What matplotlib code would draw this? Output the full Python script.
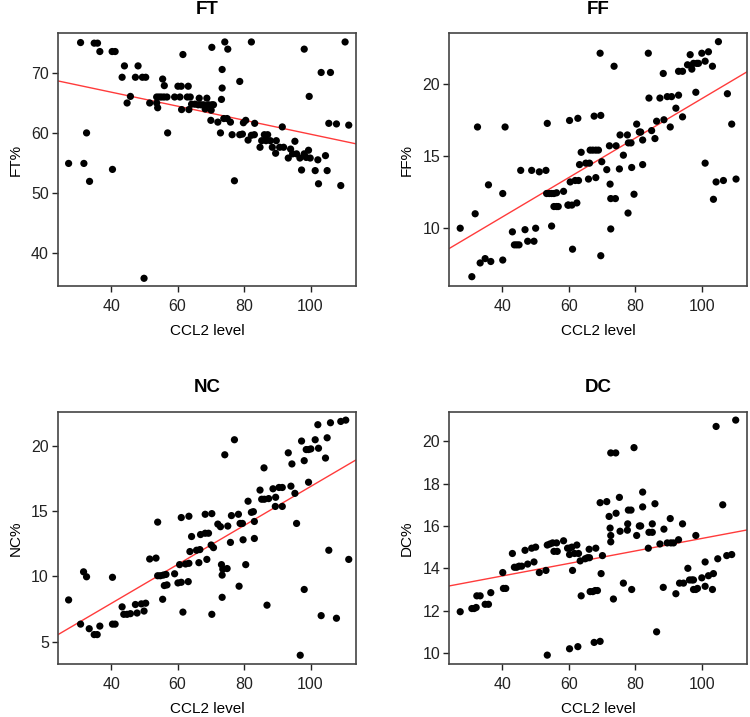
import numpy as np
import matplotlib
matplotlib.use("Agg")
import matplotlib.pyplot as plt

plt.rcParams['font.family'] = ['Liberation Sans', 'DejaVu Sans']

# CCL2 level vs cell percentages
ft_points = [(27.2, 54.9), (30.8, 75.1), (31.8, 54.9), (32.6, 60), (33.5, 51.9), (34.9, 75), (35.9, 75), (36.6, 73.6),
             (40.3, 73.6), (41.2, 73.6), (40.4, 53.9), (43.3, 69.3), (44, 71.2), (44.8, 65), (45.8, 66.1), (47.3, 69.3),
             (48.1, 71.2), (49.4, 69.3), (50.4, 69.3), (49.9, 35.7), (51.6, 65), (53.7, 65), (54, 64.2), (53.7, 66),
             (55.5, 69), (56, 67.9), (54.4, 66), (55.1, 66), (55.9, 66), (56.8, 66), (57, 60), (59.1, 66), (60.1, 67.8),
             (61.1, 67.8), (60.7, 66), (61.2, 63.9), (61.6, 73.1), (63.2, 67.8), (62.9, 66), (63.8, 66), (63.4, 63.9),
             (64.2, 64.8), (65.2, 64.8), (66.5, 65.8), (66.2, 64.7), (67, 64.7), (67.8, 64.7), (68.3, 64), (68.8, 65.8),
             (69.3, 64.7), (70.3, 64.7), (70.8, 64.7), (70.1, 63.8), (70.3, 74.3), (74.2, 75.2), (75.1, 74), (70, 62.1),
             (72.1, 61.8), (72.9, 60), (73.2, 65.6), (73.4, 67.5), (73.4, 70.6), (73.9, 62.4), (74.9, 62.4), (75.9, 61.8),
             (76.4, 59.7), (77.1, 52), (78.7, 68.6), (78.7, 59.7), (79.5, 59.8), (79.8, 61.7), (80.5, 62.1), (81.2, 58.8),
             (82.2, 59.6), (83.1, 59.7), (83.2, 61.6), (82.2, 75.2), (84.8, 57.6), (85.3, 58.7), (86.1, 59.7), (86.6, 58.7),
             (87.1, 59.7), (87.9, 58.7), (88.5, 57.6), (89.5, 56.6), (89.7, 58.7), (90.7, 57.6), (91.5, 61), (91.9, 57.6),
             (93.3, 55.8), (94, 57.3), (94.6, 56.5), (95.3, 58.6), (95.8, 56.5), (96.8, 55.8), (97.3, 53.8), (98.1, 56.5),
             (98.1, 74), (98.7, 55.9), (99.4, 57.1), (99.6, 66.1), (99.9, 55.8), (101.4, 53.7), (102.2, 55.5), (102.4, 51.5),
             (103.2, 70.1), (104.5, 56.2), (105, 53.7), (106, 70.1), (105.5, 61.6), (107.8, 61.5), (109.1, 51.2),
             (110.4, 75.2), (111.5, 61.3)]

ff_points = [(27.3, 10), (30.8, 6.65), (31.8, 11), (32.5, 17), (33.3, 7.6), (34.8, 7.9), (35.8, 13), (36.5, 7.7),
             (40.1, 12.4), (40.1, 7.8), (40.8, 17), (43, 9.75), (43.6, 8.85), (44.3, 8.85), (45, 8.85), (45.5, 14),
             (46.8, 9.9), (47.6, 9.1), (48.8, 14), (49.5, 9.1), (50, 10), (51.1, 13.9), (53.1, 14), (53.5, 17.25),
             (53.3, 12.4), (54.1, 12.4), (54.8, 12.4), (55.5, 12.4), (56.3, 12.45), (54.8, 10.15), (55.5, 11.5),
             (56.3, 11.5), (56.8, 11.5), (58.4, 12.55), (59.7, 11.6), (60.2, 17.45), (60.4, 13.2), (61.1, 8.55),
             (59.9, 11.6), (60.9, 11.6), (62.4, 11.75), (61.9, 13.3), (62.9, 13.3), (62.7, 17.6), (63.2, 14.4),
             (63.7, 15.25), (65.1, 14.5), (66.2, 14.5), (65.9, 13.4), (66.4, 15.4), (67.2, 15.4), (68.1, 15.4),
             (68.9, 15.4), (67.6, 17.75), (68.1, 13.5), (69.4, 22.1), (69.6, 17.8), (69.6, 8.1), (69.9, 14.6),
             (71.4, 14.05), (72.2, 15.7), (72.4, 13.05), (72.6, 12.05), (74, 12.05), (72.6, 9.95), (73.6, 21.2),
             (74.2, 15.7), (75.2, 14.1), (75.4, 16.45), (76.4, 15.05), (77.6, 16.45), (77.9, 15.9), (78.7, 15.9),
             (77.8, 11.05), (78.9, 14.2), (79.6, 12.35), (80.4, 17.2), (81.2, 16.65), (81.6, 16.65), (82.2, 16.1),
             (82.2, 14.4), (83.9, 22.1), (84.1, 19), (84.9, 16.75), (86.4, 17.4), (85.9, 16.2), (87.4, 19), (88.4, 20.7),
             (88.6, 17.5), (89.6, 19.1), (90.9, 19.1), (90.5, 17), (92.2, 18.3), (93, 19.2), (93, 20.85), (94.2, 20.85),
             (94.2, 17.7), (95.7, 21.3), (96.5, 22), (97, 21), (97.5, 21.4), (98.5, 21.4), (99, 21.4), (98.2, 19.4),
             (100, 22.1), (102, 22.2), (101, 21.55), (101, 14.5), (103.2, 21.2), (103.5, 12), (104.3, 13.2), (105, 22.9),
             (106.5, 13.3), (107.7, 19.3), (109, 17.2), (110.3, 13.4)]

nc_points = [(27.2, 8.2), (30.8, 6.35), (31.7, 10.35), (32.6, 9.97), (33.4, 6), (34.9, 5.55), (35.8, 5.55), (36.6, 6.2),
             (40.4, 9.93), (40.4, 6.35), (41.2, 6.35), (43.3, 7.67), (43.8, 7.1), (44.8, 7.1), (45.8, 7.15), (47.3, 7.85),
             (47.8, 7.2), (49.1, 7.9), (50.4, 7.95), (49.9, 7.35), (51.6, 11.33), (53.5, 11.4), (54, 14.15), (54, 10.05),
             (54.8, 10.05), (55.7, 10.1), (56.5, 10.15), (55.5, 8.25), (56, 9.3), (56.8, 9.35), (59.1, 10.2), (60.1, 9.5),
             (61.1, 9.55), (60.6, 10.9), (61.1, 14.5), (61.6, 7.27), (62.4, 10.95), (63.4, 11), (63.2, 9.6), (63.4, 14.6),
             (63.7, 11.9), (64.2, 13.05), (65.7, 12), (66.7, 12.05), (66.4, 11.05), (66.9, 13.2), (68.8, 11.3),
             (68.3, 13.3), (69.3, 13.3), (68.3, 14.75), (70.3, 14.8), (70.1, 12.4), (70.8, 12.2), (70.3, 7.1), (72.1, 14),
             (72.9, 13.8), (73.2, 10.9), (73.6, 10.55), (74.9, 10.6), (73.4, 10.1), (73.4, 8.4), (74.2, 19.3),
             (75.1, 13.85), (75.9, 12.6), (76.2, 14.65), (77.1, 20.45), (78.3, 14.75), (78.8, 14.05), (79.5, 14.05),
             (78.5, 9.25), (79.7, 12.8), (80.5, 10.9), (81.2, 15.75), (82.2, 14.9), (82.8, 14.95), (83.1, 14.2),
             (83.1, 12.9), (84.8, 16.6), (85.3, 15.9), (86.1, 15.9), (87.4, 15.95), (86, 18.3), (86.9, 7.8), (88.7, 16.7),
             (89.5, 16.05), (89.4, 15.35), (90.5, 16.8), (91.5, 16.8), (91.5, 15.35), (93.3, 19.45), (94.1, 16.9),
             (94.4, 18.6), (95.3, 16.35), (95.8, 14.05), (96.9, 3.97), (97.3, 20.35), (98.1, 18.85), (98.1, 9),
             (98.7, 19.7), (99.4, 19.7), (100.1, 19.75), (99.4, 17.2), (101.4, 20.45), (102.2, 21.6), (102.4, 19.8),
             (103.2, 7), (104.5, 19.05), (105, 20.6), (105.5, 12), (106, 21.75), (107.8, 6.8), (109.1, 21.85),
             (110.6, 21.95), (111.5, 11.3)]

dc_points = [(27.3, 11.95), (30.8, 12.1), (31.5, 12.1), (32.1, 12.15), (32.3, 12.7), (33.3, 12.7), (34.8, 12.3),
             (35.8, 12.3), (36.5, 12.85), (40.1, 13.8), (40.3, 13.05), (41, 13.05), (43, 14.7), (43.6, 14.05),
             (44.3, 14.05), (45, 14.1), (45.8, 14.1), (46.8, 14.85), (47.6, 14.2), (48.8, 14.95), (50, 15), (49.5, 14.3),
             (51.1, 13.8), (53.1, 13.9), (53.5, 15.1), (54.3, 15.15), (55.1, 15.2), (56.3, 15.2), (53.5, 9.9),
             (55.5, 14.8), (56.5, 14.8), (58.4, 15.3), (59.6, 14.95), (60.2, 14.95), (60.2, 14.65), (60.2, 10.2),
             (60.9, 15), (62.4, 15.1), (61.7, 14.7), (62.9, 14.7), (61.1, 13.9), (62.7, 10.3), (63.4, 14.35),
             (63.7, 12.7), (64.9, 14.45), (65.6, 14.5), (66.2, 14.5), (66.1, 14.9), (66.4, 12.9), (67.2, 12.9),
             (67.9, 12.95), (68.6, 12.95), (67.6, 10.5), (68.1, 14.95), (69.4, 17.1), (69.4, 10.55), (69.7, 13.75),
             (70.1, 14.6), (71.4, 17.15), (72.1, 16.45), (72.4, 15.9), (72.6, 15.55), (72.6, 15.25), (72.6, 19.45),
             (74.1, 19.45), (73.4, 12.55), (74.2, 16.6), (75.2, 17.35), (75.4, 15.75), (76.4, 13.3), (77.6, 15.8),
             (77.7, 16.1), (77.9, 16.75), (78.7, 16.75), (78.9, 13), (79.6, 19.7), (80.4, 15.55), (81.2, 16), (81.6, 16),
             (82.2, 17.6), (82.2, 16.9), (83.9, 14.95), (84.1, 15.7), (85.1, 15.7), (85.1, 16.1), (85.9, 17.05),
             (86.4, 11), (87.4, 15.15), (88.4, 13.1), (88.6, 15.85), (89.6, 15.2), (90.7, 15.2), (90.5, 16.35),
             (91.5, 15.2), (92.2, 12.8), (93, 15.35), (93.3, 13.3), (94.5, 13.3), (94.2, 16.1), (95.8, 14),
             (96.3, 13.45), (97, 13.45), (97.5, 13.45), (97.5, 13), (98.2, 13), (98.7, 13.05), (98.2, 15.55),
             (100, 13.55), (101, 14.3), (101, 13.15), (102, 13.65), (103.5, 13.75), (103.2, 13), (104.3, 20.7),
             (104.8, 14.45), (106.3, 17), (107.5, 14.6), (109, 14.65), (110.2, 21)]

# fitted line (intercept, slope) as drawn in the figure
fits = {'FT': (71.5, -0.1172), 'FF': (5.33, 0.1363), 'NC': (1.97, 0.149), 'DC': (12.46, 0.0295)}

titles = ['FT', 'FF', 'NC', 'DC']
ylabels = ['FT%', 'FF%', 'NC%', 'DC%']
yticks = [[40, 50, 60, 70], [10, 15, 20], [5, 10, 15, 20], [10, 12, 14, 16, 18, 20]]
ylims = [(34.4, 76.7), (6.0, 23.5), (3.3, 22.6), (9.48, 21.4)]
xticks = [40, 60, 80, 100]
xlim = (24, 113.6)

fig = plt.figure(figsize=(7.5, 7.17), dpi=100)
boxes = [[0.0773, 0.601, 0.397, 0.353], [0.599, 0.601, 0.397, 0.353],
         [0.0773, 0.0739, 0.397, 0.352], [0.599, 0.0739, 0.397, 0.352]]

for i, pts in enumerate([ft_points, ff_points, nc_points, dc_points]):
    ax = fig.add_axes(boxes[i])
    xs, ys = np.array(pts).T
    ax.scatter(xs, ys, s=27, color='black', edgecolors='none', zorder=3)
    b0, b1 = fits[titles[i]]
    lx = np.array(xlim)
    ax.plot(lx, b0 + b1 * lx, color='#ff3b3b', lw=1.0, zorder=2)
    ax.set_xlim(*xlim)
    ax.set_ylim(*ylims[i])
    ax.set_xticks(xticks)
    ax.set_yticks(yticks[i])
    ax.tick_params(direction='out', length=4.5, width=1, labelsize=11.5, colors='#222222')
    ax.tick_params(axis='x', pad=5)
    ax.tick_params(axis='y', pad=2)
    for sp in ax.spines.values():
        sp.set_color('#444444')
        sp.set_linewidth(1.2)
    ax.set_title(titles[i], fontsize=13.5, fontweight='bold', pad=14)
    ax.set_xlabel('CCL2 level', fontsize=11, labelpad=7)
    ax.set_ylabel(ylabels[i], fontsize=11, labelpad=6)

fig.savefig('out.png', dpi=100)
